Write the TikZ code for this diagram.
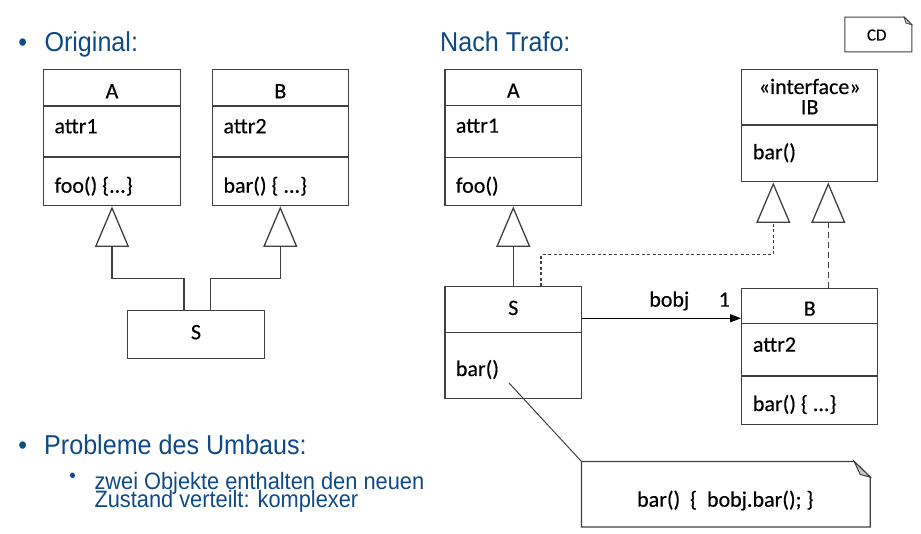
\documentclass[tikz,border=0pt]{standalone}
\usepackage{fontspec}
\setmainfont[FakeBold=0.35]{Carlito}
\newfontfamily\headfont[FakeStretch=0.92]{Liberation Sans}
\usetikzlibrary{arrows.meta}
\definecolor{headblue}{HTML}{104A86}
\definecolor{edge}{HTML}{404040}
\begin{document}
\begin{tikzpicture}[x=1pt,y=-1pt,
  cls/.style={draw=edge, line width=1.3pt, inner sep=0pt, fill=white},
  txt/.style={inner sep=0pt, font=\fontsize{22}{26}\selectfont, anchor=base},
  mem/.style={txt, anchor=base west},
  head/.style={inner sep=0pt, anchor=base west, text=headblue, font=\headfont\fontsize{27.3}{32}\selectfont},
  sub/.style={inner sep=0pt, anchor=base west, text=headblue, font=\headfont\fontsize{23.7}{28}\selectfont},
  bul/.style={inner sep=0pt, anchor=base, text=headblue},
  divline/.style={draw=edge, line width=1.3pt},
  inh/.style={draw=edge, line width=1.3pt, -{Triangle[open, length=40.5pt, width=34pt]}},
  realA/.style={inh, dash pattern=on 3pt off 2.5pt},
  realB/.style={inh, dash pattern=on 6pt off 4pt},
  assoc/.style={draw=black, line width=1.3pt, -{Triangle[length=11pt, width=8pt]}},
  thin/.style={draw=edge, line width=1pt}
]
\useasboundingbox (0,0) rectangle (921,534);

% ---------- headings ----------
\node[bul, font=\headfont\fontsize{27}{32}\selectfont] (b1) at (22.7,51.7) {•};
\node[head] (h1) at (44.3,51.7) {Original:};
\node[head] (h2) at (440,52) {Nach Trafo:};
\node[bul, font=\headfont\fontsize{27}{32}\selectfont] (b2) at (22.7,454.3) {•};
\node[head] (h3) at (44,454.3) {Probleme des Umbaus:};
\node[bul, font=\headfont\fontsize{20}{24}\selectfont] (b3) at (72.7,482.5) {•};
\node[sub] (s1) at (94.3,489) {zwei Objekte enthalten den neuen};
\node[sub] (s2) at (94.3,507) {Zustand verteilt: komplexer};

% ---------- CD note ----------
\node[inner sep=0pt, minimum width=66.7pt, minimum height=34.4pt] (cd) at (878.35,34.5) {};
\draw[edge, line width=1pt, fill=white] (cd.south west) -- (cd.north west) -- ([xshift=-7.7pt]cd.north east) -- ([yshift=-7.7pt]cd.north east) -- (cd.south east) -- cycle;
\draw[edge, line width=0.8pt, fill=gray!45] ([xshift=-7.7pt]cd.north east) -- ([xshift=-6pt,yshift=-6pt]cd.north east) -- ([yshift=-7.7pt]cd.north east) -- cycle;
\node[txt, font=\fontsize{17}{20}\selectfont] (cdt) at (876.7,40.5) {CD};

% ---------- Original ----------
\node[cls, minimum width=136.6pt, minimum height=136pt] (oA) at (112,137.7) {};
\draw[divline] ([yshift=-37pt]oA.north west) -- ([yshift=-37pt]oA.north east);
\draw[divline] ([yshift=-88pt]oA.north west) -- ([yshift=-88pt]oA.north east);
\node[txt] (oAn) at (112,98.3) {A};
\node[mem] (oA1) at (54.3,133.3) {attr1};
\node[mem] (oA2) at (54.3,192.7) {foo() \{...\}};

\node[cls, minimum width=136pt, minimum height=136pt] (oB) at (280.3,137.7) {};
\draw[divline] ([yshift=-37pt]oB.north west) -- ([yshift=-37pt]oB.north east);
\draw[divline] ([yshift=-88pt]oB.north west) -- ([yshift=-88pt]oB.north east);
\node[txt] (oBn) at (280.3,98.3) {B};
\node[mem] (oB1) at (223.3,133.3) {attr2};
\node[mem] (oB2) at (223.3,192.7) {bar() \{ ...\}};

\node[cls, minimum width=136.6pt, minimum height=47.6pt] (oS) at (196,334.5) {};
\node[txt] (oSn) at (196,339.3) {S};

\draw[inh] ([xshift=-12pt]oS.north) |- ([yshift=-72pt]oA.south) -- (oA.south);
\draw[inh] ([xshift=14.7pt]oS.north) |- ([yshift=-72pt]oB.south) -- (oB.south);

% ---------- Nach Trafo ----------
\node[cls, minimum width=136.7pt, minimum height=136.4pt] (rA) at (513.3,137.5) {};
\draw[divline] ([yshift=-37pt]rA.north west) -- ([yshift=-37pt]rA.north east);
\draw[divline] ([yshift=-88.7pt]rA.north west) -- ([yshift=-88.7pt]rA.north east);
\node[txt] (rAn) at (513.3,97.7) {A};
\node[mem] (rA1) at (455.7,132.7) {attr1};
\node[mem] (rA2) at (455.7,192.7) {foo()};

\node[cls, minimum width=136pt, minimum height=112.4pt] (rIB) at (809.7,125.5) {};
\draw[divline] ([yshift=-56.4pt]rIB.north west) -- ([yshift=-56.4pt]rIB.north east);
\node[txt] (rIBs) at (809.7,94) {«interface»};
\node[txt] (rIBn) at (809.7,114.3) {IB};
\node[mem] (rIB1) at (752.7,159.3) {bar()};

\node[cls, minimum width=136.7pt, minimum height=111.6pt] (rS) at (513.3,342.5) {};
\draw[divline] ([yshift=-46.6pt]rS.north west) -- ([yshift=-46.6pt]rS.north east);
\node[txt] (rSn) at (513.3,315) {S};
\node[mem] (rS1) at (455.7,376) {bar()};

\node[cls, minimum width=136pt, minimum height=136pt] (rB) at (809.7,356.3) {};
\draw[divline] ([yshift=-36pt]rB.north west) -- ([yshift=-36pt]rB.north east);
\draw[divline] ([yshift=-88.4pt]rB.north west) -- ([yshift=-88.4pt]rB.north east);
\node[txt] (rBn) at (809.7,315.7) {B};
\node[mem] (rB1) at (752.7,351.7) {attr2};
\node[mem] (rB2) at (752.7,411) {bar() \{ ...\}};

\draw[inh] (rS.north) -- (rA.south);
\draw[realA] ([xshift=27.7pt]rS.north) |- ([xshift=-36.4pt,yshift=-72.3pt]rIB.south) -- ([xshift=-36.4pt]rIB.south);
\draw[realB] ([xshift=18.6pt]rB.north) -- ([xshift=18.6pt]rIB.south);

\draw[assoc] ([yshift=24.2pt]rS.east) -- ([yshift=24.2pt]rS.east -| rB.west);
\node[txt] (lbobj) at (669.3,306.7) {bobj};
\node[txt] (lone) at (724.3,306.7) {1};

% ---------- note ----------
\node[inner sep=0pt, minimum width=288.3pt, minimum height=65pt] (note) at (725.85,494.2) {};
\draw[edge, line width=1.3pt, fill=white] (note.south west) -- (note.north west) -- ([xshift=-16pt]note.north east) -- ([yshift=-15.6pt]note.north east) -- (note.south east) -- cycle;
\draw[edge, line width=1pt, fill=gray!45] ([xshift=-16pt]note.north east) -- ([xshift=-10pt,yshift=-13pt]note.north east) -- ([yshift=-15.6pt]note.north east) -- cycle;
\node[txt] (notet) at (725.3,506.7) {bar()\ \ \{\ \ bobj.bar(); \}};
\coordinate (nstart) at (509,383);
\draw[thin] (nstart) -- (note.north west);
\end{tikzpicture}
\end{document}
